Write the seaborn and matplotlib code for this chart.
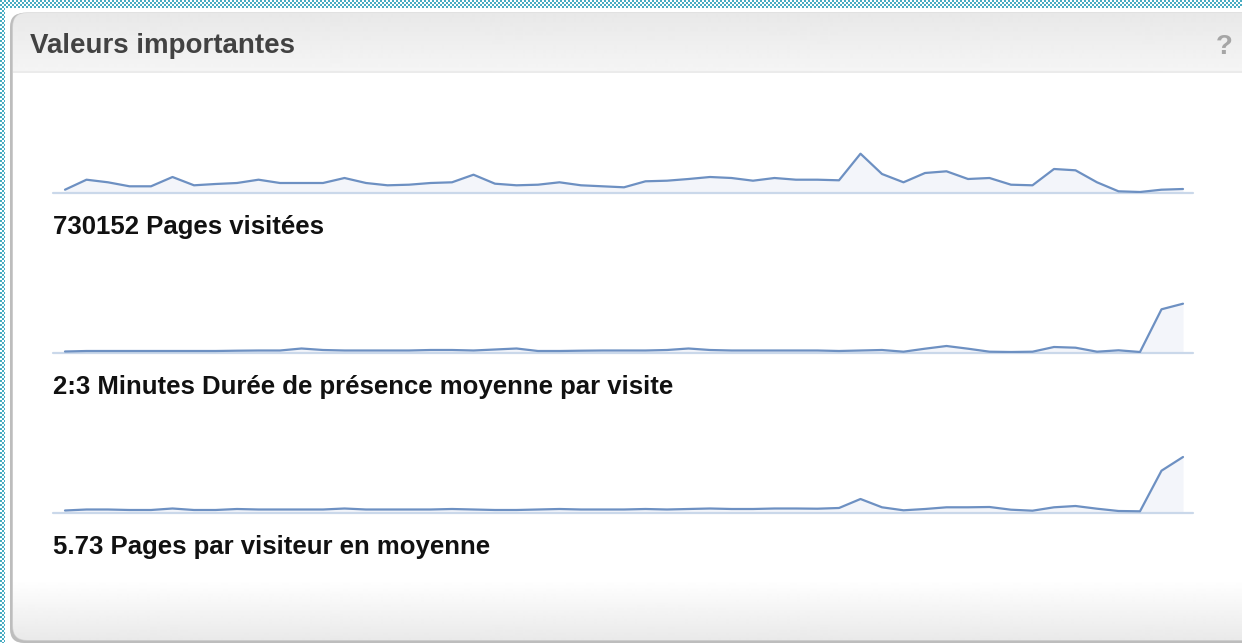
import numpy as np
import seaborn as sns
import matplotlib.pyplot as plt
from matplotlib.patches import FancyBboxPatch


# values (relative units, one point per day)
days = list(range(53))

pages_visitees = [3.3, 13.3, 10.7, 6.7, 6.7, 16, 7.7, 9, 10, 13.3,
                  10, 10, 10, 15, 10, 7.7, 8.3, 10, 10.7, 18.3,
                  9.3, 7.7, 8.3, 10.7, 7.7, 6.7, 5.7, 11.7, 12.3, 14,
                  16, 15, 12.3, 15, 13.3, 13.3, 12.7, 39.3, 19, 10.7,
                  20, 21.7, 14, 15, 8.3, 7.7, 24, 22.7, 10.7, 1.7,
                  1, 3.3, 4]

duree_moyenne = [1.5, 2, 2, 2, 2, 2, 2, 2, 2.3, 2.5,
                 2.5, 4.5, 3, 2.5, 2.5, 2.5, 2.5, 3, 3, 2.5,
                 3.5, 4.5, 2, 2, 2.3, 2.5, 2.5, 2.5, 3, 4.5,
                 3, 2.5, 2.5, 2.5, 2.5, 2.5, 2, 2.5, 3, 1.3,
                 4.3, 7, 4.3, 1.3, 1, 1.3, 6, 5.3, 1.3, 2.7,
                 1, 43.7, 49.3]

pages_par_visiteur = [2.5, 3.5, 3.5, 3, 3, 4.5, 3, 3, 4, 3.5,
                      3.5, 3.5, 3.5, 4.5, 3.5, 3.5, 3.5, 3.5, 4, 3.5,
                      3, 3, 3.5, 4, 3.5, 3.5, 3.5, 4, 3.5, 4,
                      4.5, 4, 4, 4.5, 4.5, 4.3, 5, 14, 5.7, 2.7,
                      4, 5.7, 5.7, 6, 3.3, 2.3, 5.7, 7, 4.3, 2,
                      1.7, 42.3, 56]

labels = ["730152 Pages visitées",
          "2:3 Minutes Durée de présence moyenne par visite",
          "5.73 Pages par visiteur en moyenne"]

title = "Valeurs importantes"


sns.set_theme(style="white")
plt.rcParams['font.family'] = ['Liberation Sans', 'DejaVu Sans']

W, H = 1242, 643
fig = plt.figure(figsize=(W / 100, H / 100), dpi=100)
fig.patch.set_facecolor("white")

# background layer in pixel coordinates
bg = fig.add_axes([0, 0, 1, 1])
bg.set_xlim(0, W)
bg.set_ylim(H, 0)
bg.axis("off")

# dotted teal frame (top and left)
yy, xx = np.mgrid[0:H, 0:W]
dots = ((xx // 2) + (yy // 2)) % 2 == 0
band = (yy < 8) | (xx < 5)
frame = np.zeros((H, W, 4))
frame[..., :3] = np.array([72, 172, 194]) / 255
frame[..., 3] = (dots & band).astype(float)
bg.imshow(frame, extent=(0, W, H, 0), interpolation="nearest", zorder=1)

# widget panel with shadow
shadow = FancyBboxPatch((10, 13), 1300, 630, boxstyle="round,pad=0,rounding_size=14",
                        facecolor="#bdbdbd", edgecolor="none", zorder=2)
bg.add_patch(shadow)
panel = FancyBboxPatch((13, 13), 1300, 627, boxstyle="round,pad=0,rounding_size=14",
                       facecolor="white", edgecolor="#d4d4d4", linewidth=1, zorder=3)
bg.add_patch(panel)

# vertical shading of the panel: grey header, white body, grey footer
ys = np.arange(13, 641)
shade = np.ones(len(ys))
head = ys < 71
shade[head] = 0.91 + (ys[head] - 13) / 58 * 0.05
shade[(ys >= 71) & (ys < 73)] = 0.92
foot = ys >= 580
shade[foot] = 1.0 - (ys[foot] - 580) / 60 * 0.085
grad = np.repeat(shade[:, None], 2, axis=1)
im = bg.imshow(grad, extent=(13, 1313, 641, 13), cmap="gray", vmin=0, vmax=1,
               aspect="auto", interpolation="bilinear", zorder=4)
im.set_clip_path(panel)

bg.text(30, 46, title, fontsize=20, fontweight="bold", color="#424242",
        ha="left", va="center", zorder=5)
bg.text(1224, 47, "?", fontsize=20, fontweight="bold", color="#a6a6a6",
        ha="center", va="center", zorder=5)

# sparklines
line_color = "#6d90c2"
fill_color = "#f3f5fa"
base_color = "#cad8ea"
series = [pages_visitees, duree_moyenne, pages_par_visiteur]
baselines = [193, 353, 513]
x0, x1 = 53, 1193
first, last = 65, 1183
step = (last - first) / (len(days) - 1)

for vals, yb, lab in zip(series, baselines, labels):
    ax = fig.add_axes([x0 / W, (H - yb) / H, (x1 - x0) / W, 66 / H])
    ax.patch.set_alpha(0)
    ax.fill_between(days, vals, 0, color=fill_color, linewidth=0, zorder=1)
    sns.lineplot(x=days, y=vals, ax=ax, color=line_color, linewidth=1.6, zorder=3)
    ax.axhline(0, color=base_color, linewidth=1.6, clip_on=False, zorder=2)
    ax.set_xlim(-(first - x0) / step, days[-1] + (x1 - last) / step)
    ax.set_ylim(0, 66)
    ax.set(xlabel="", ylabel="", xticks=[], yticks=[])
    sns.despine(ax=ax, left=True, bottom=True)
    bg.text(53, yb + 34, lab, fontsize=18.5, fontweight="bold", color="#111111",
            ha="left", va="center", zorder=5)

fig.savefig("out.png", dpi=100)
